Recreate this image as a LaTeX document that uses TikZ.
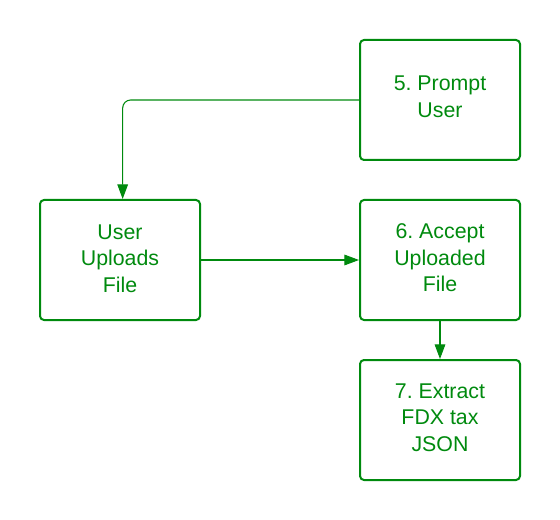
\documentclass[tikz,border=0pt]{standalone}
\usepackage{fontspec}
\setmainfont{Liberation Sans}
\usetikzlibrary{arrows.meta}
\definecolor{flowgreen}{HTML}{008A0E}
\newcommand\lift[2]{\raisebox{#1}[\height][\depth]{\begin{tabular}{@{}c@{}}#2\end{tabular}}}
\tikzset{
  stepbox/.style={draw=flowgreen, line width=1.5pt, rounded corners=3pt,
    minimum width=120pt, minimum height=90pt, align=center,
    text=flowgreen, font=\fontsize{16}{20}\selectfont\frenchspacing},
  link/.style={draw=flowgreen, line width=0.8pt, rounded corners=6pt,
    -{Triangle[length=11pt,width=8pt]}}
}
\begin{document}
\begin{tikzpicture}[x=0.75pt, y=-0.75pt]
\useasboundingbox (0,0) rectangle (560,520);
% 方框
\node[stepbox] (prompt) at (440,100) {\lift{0.8pt}{5. Prompt\\User}};
\node[stepbox] (upload) at (120,260) {\lift{-0.4pt}{User\\Uploads\\File}};
\node[stepbox] (accept) at (440,260) {\lift{0pt}{6. Accept\\Uploaded\\File}};
\node[stepbox] (extract) at (440,420) {\lift{0.3pt}{7. Extract\\FDX tax\\JSON}};

% 连线
\draw[link] (prompt.west) -| ([xshift=2pt]upload.north);
\draw[link] (upload.east) -- (accept.west);
\draw[link] (accept.south) -- (extract.north);
\end{tikzpicture}
\end{document}
